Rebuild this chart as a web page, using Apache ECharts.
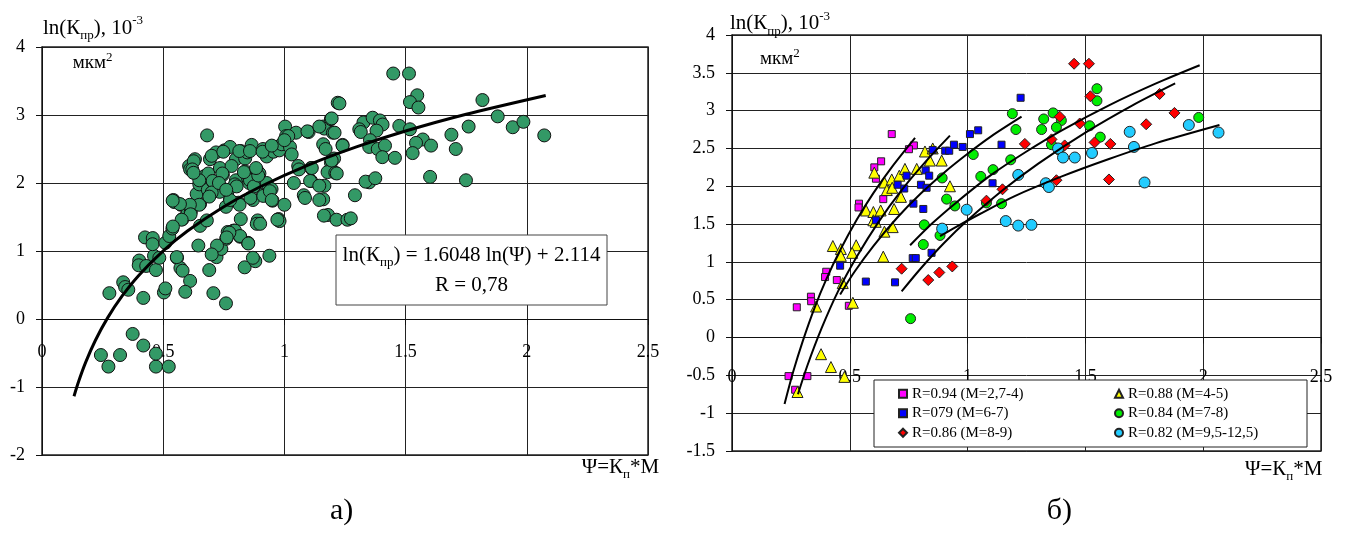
<!DOCTYPE html>
<html><head><meta charset="utf-8">
<script src="https://cdn.jsdelivr.net/npm/echarts@6/dist/echarts.min.js"></script>
<style>html,body{margin:0;padding:0;background:#fff}#c{width:1348px;height:535px}</style>
</head><body><div id="c"></div>
<script>
// ---------- tick values ----------
const xTicks = [0, 0.5, 1, 1.5, 2, 2.5];
const yTicksA = [-2, -1, 0, 1, 2, 3, 4];
const yTicksB = [-1.5, -1, -0.5, 0, 0.5, 1, 1.5, 2, 2.5, 3, 3.5, 4];

// ---------- chart a) : all samples ----------
const allSamples = [
[0.243,-0.53],[0.274,-0.70],[0.322,-0.53],[0.374,-0.22],[0.418,-0.39],[0.47,-0.70],[0.523,-0.70],[0.47,-0.51],
[0.278,0.38],[0.335,0.54],[0.343,0.47],[0.356,0.43],[0.418,0.31],[0.401,0.86],[0.399,0.79],[0.43,0.78],[0.47,0.72],
[0.462,0.93],[0.484,0.90],[0.503,0.39],[0.509,0.45],[0.557,0.90],[0.571,0.75],[0.58,0.71],[0.611,0.56],[0.591,0.40],
[0.645,1.08],[0.69,0.72],[0.707,0.38],[0.72,0.91],[0.727,1.05],[0.74,1.03],[0.759,0.23],[0.76,1.18],[0.77,1.25],
[0.817,1.21],[0.85,1.12],[0.836,0.76],[0.88,0.85],[0.938,0.93],[0.425,1.20],[0.457,1.19],[0.456,1.10],[0.509,1.12],
[0.525,1.22],[0.538,1.33],[0.79,1.30],[0.556,0.91],
[0.542,1.75],[0.546,1.72],[0.573,1.68],[0.58,1.47],[0.60,1.55],[0.614,1.58],[0.652,1.37],[0.652,1.69],[0.638,1.84],
[0.649,1.98],[0.65,2.07],[0.67,2.10],[0.686,2.14],[0.69,1.82],[0.684,1.90],[0.681,2.70],[0.607,2.25],[0.611,2.20],
[0.631,2.35],[0.626,2.32],[0.707,2.01],[0.718,2.45],[0.734,2.22],[0.746,2.12],[0.752,2.48],[0.776,2.53],[0.733,1.87],
[0.767,1.89],[0.775,1.75],[0.759,1.65],[0.766,1.28],[0.722,1.08],[0.82,1.47],[0.81,1.71],[0.815,1.68],[0.80,2.04],
[0.80,2.35],[0.82,2.47],[0.838,2.36],[0.847,2.45],[0.865,2.56],[0.838,2.17],[0.845,2.12],[0.85,2.07],[0.855,2.00],
[0.886,2.19],[0.897,2.14],[0.89,2.05],[0.912,1.83],[0.927,2.00],[0.947,1.91],[0.951,1.74],[0.87,1.75],[0.86,1.78],
[0.89,1.45],[0.886,1.40],[0.976,1.47],[0.98,1.44],[1.0,1.68],[0.912,2.50],[0.927,2.39],[0.947,2.53],[0.955,2.46],
[0.979,2.48],[0.989,2.57],[1.003,2.83],[1.007,2.69],[1.023,2.53],[1.03,2.42],[1.048,2.74],[1.057,2.25],[1.06,2.20],
[1.039,2.00],[1.10,2.75],[1.11,2.22],[1.11,2.03],[1.08,1.82],[1.085,1.78],[1.16,2.83],[1.165,2.80],[1.16,2.57],
[1.17,2.50],[1.165,1.96],[1.16,1.76],[1.18,1.53],[1.192,2.94],[1.20,2.74],[1.192,2.30],[1.178,2.16],[1.21,2.15],
[1.22,3.18],[1.24,2.56],[1.215,1.46],[1.26,1.46],
[0.796,1.30],[0.796,1.98],[0.803,1.95],[0.782,2.25],[0.776,1.75],[0.693,2.35],[0.70,2.40],[0.704,2.03],[0.70,1.86],
[0.69,1.80],[0.649,2.04],[0.649,1.68],[0.61,1.68],[0.613,1.54],[0.576,1.46],[0.569,1.69],[0.539,1.74],[0.54,1.36],
[0.68,1.45],[0.62,2.20],[0.625,2.15],[0.744,2.14],[0.73,2.00],[0.76,1.90],[0.858,2.04],[0.874,1.95],[0.833,2.16],
[0.892,2.11],[0.883,2.22],[0.913,1.81],[0.94,1.88],[0.948,1.75],[0.971,1.46],[0.90,1.40],[0.817,1.22],[0.773,1.27],
[0.762,1.20],[0.851,1.11],[0.70,0.95],[0.87,0.90],[0.748,2.46],[0.814,2.47],[0.858,2.47],[0.91,2.46],[0.948,2.55],
[1.016,2.69],[1.0,2.63],[1.095,2.76],[1.144,2.83],[1.205,2.36],[1.113,2.22],[1.106,2.03],[1.144,1.96],[1.144,1.75],
[1.163,1.52],
[1.449,3.61],[1.514,3.61],[1.548,3.29],[1.518,3.19],[1.553,3.11],[1.227,3.17],[1.195,2.95],[1.207,2.74],[1.24,2.55],
[1.195,2.33],[1.216,2.14],[1.326,2.89],[1.309,2.79],[1.315,2.75],[1.364,2.96],[1.394,2.92],[1.405,2.86],[1.38,2.77],
[1.353,2.63],[1.35,2.53],[1.385,2.50],[1.415,2.55],[1.404,2.38],[1.456,2.37],[1.474,2.84],[1.518,2.79],[1.571,2.64],
[1.543,2.59],[1.605,2.55],[1.529,2.44],[1.601,2.09],[1.689,2.71],[1.707,2.50],[1.76,2.83],[1.749,2.04],[1.817,3.22],
[1.88,2.98],[1.942,2.82],[1.986,2.90],[1.35,2.01],[1.335,2.02],[1.375,2.07],[1.291,1.82],[1.274,1.48],[2.072,2.70]
];
// trend line read off chart a)
const trendA_x = [0.132,0.15,0.18,0.22,0.27,0.33,0.4,0.5,0.6,0.75,0.9,1.1,1.3,1.5,1.75,2.078];
const trendA_y = [-1.136,-0.930,-0.638,-0.316,0.013,0.335,0.644,1.002,1.294,1.652,1.945,2.267,2.535,2.765,3.012,3.288];

// ---------- chart б) : groups ----------
const names = ['R=0.94 (M=2,7-4)','R=0.88 (M=4-5)','R=079 (M=6-7)','R=0.84 (M=7-8)','R=0.86 (M=8-9)','R=0.82 (M=9,5-12,5)'];
const g27_4 = [[0.678,2.69],[0.772,2.54],[0.751,2.49],[0.633,2.33],[0.604,2.25],[0.611,2.10],[0.642,1.83],[0.539,1.77],
[0.537,1.72],[0.40,0.87],[0.395,0.80],[0.445,0.76],[0.335,0.54],[0.336,0.48],[0.275,0.40],[0.496,0.42],[0.24,-0.51],
[0.32,-0.51],[0.268,-0.69]];
const g4_5 = [[0.819,2.46],[0.852,2.50],[0.84,2.34],[0.89,2.34],[0.925,2.00],[0.604,2.18],[0.647,2.05],[0.678,2.09],
[0.71,2.14],[0.734,2.23],[0.784,2.23],[0.657,1.95],[0.68,1.98],[0.717,1.86],[0.688,1.70],[0.569,1.68],[0.60,1.66],
[0.631,1.68],[0.60,1.55],[0.61,1.53],[0.647,1.40],[0.682,1.46],[0.428,1.21],[0.462,1.17],[0.462,1.08],[0.527,1.22],
[0.51,1.12],[0.642,1.07],[0.47,0.72],[0.513,0.46],[0.357,0.41],[0.378,-0.22],[0.42,-0.39],[0.477,-0.52],[0.278,-0.72]];
const g6_7 = [[0.852,2.48],[0.905,2.47],[0.922,2.47],[0.942,2.55],[0.979,2.52],[1.01,2.69],[1.045,2.74],[1.144,2.55],
[1.106,2.04],[1.225,3.17],[0.822,2.21],[0.837,2.14],[0.741,2.14],[0.703,2.02],[0.731,1.97],[0.802,2.02],[0.826,1.98],
[0.77,1.77],[0.812,1.70],[0.611,1.55],[0.847,1.12],[0.767,1.05],[0.78,1.05],[0.459,0.95],[0.568,0.74],[0.692,0.73]];
const g7_8 = [[1.549,3.29],[1.549,3.13],[1.363,2.97],[1.323,2.89],[1.398,2.87],[1.314,2.75],[1.377,2.78],[1.19,2.96],
[1.205,2.75],[1.518,2.80],[1.563,2.65],[1.356,2.55],[1.388,2.48],[1.024,2.42],[1.183,2.35],[1.108,2.22],[1.056,2.13],
[0.892,2.11],[0.911,1.83],[0.946,1.74],[1.08,1.78],[1.144,1.77],[0.883,1.35],[0.816,1.49],[0.812,1.23],[0.758,0.25],
[1.981,2.91]];
const g8_9 = [[1.452,3.62],[1.515,3.62],[1.521,3.19],[1.815,3.22],[1.878,2.97],[1.391,2.92],[1.476,2.83],[1.758,2.82],
[1.243,2.56],[1.356,2.62],[1.412,2.54],[1.539,2.58],[1.606,2.56],[1.60,2.09],[1.377,2.08],[1.148,1.96],[1.08,1.81],
[0.72,0.91],[0.833,0.76],[0.88,0.86],[0.935,0.94]];
const g95_125 = [[0.892,1.44],[0.996,1.69],[1.162,1.54],[1.215,1.48],[1.271,1.49],[1.215,2.15],[1.332,2.04],[1.345,1.99],
[1.384,2.50],[1.405,2.38],[1.455,2.38],[1.528,2.44],[1.688,2.72],[1.706,2.52],[1.751,2.05],[1.939,2.81],[2.065,2.71]];
// trend lines read off chart б)
const tr27_4_x = [0.223,0.26,0.30,0.35,0.40,0.46,0.53,0.60,0.68,0.777];
const tr27_4_y = [-0.88,-0.45,-0.05,0.39,0.77,1.16,1.56,1.91,2.26,2.64];
const tr4_5_x = [0.28,0.32,0.38,0.45,0.53,0.62,0.72,0.82,0.925];
const tr4_5_y = [-0.75,-0.37,0.12,0.61,1.07,1.52,1.95,2.32,2.67];
const tr6_7_x = [0.459,0.52,0.60,0.70,0.80,0.90,1.00,1.10,1.229];
const tr6_7_y = [0.57,0.87,1.21,1.58,1.90,2.18,2.43,2.66,2.92];
const tr7_8_x = [0.756,0.85,0.95,1.1,1.25,1.4,1.6,1.8,1.985];
const tr7_8_y = [1.22,1.51,1.78,2.15,2.46,2.74,3.07,3.36,3.60];
const tr8_9_x = [0.72,0.80,0.90,1.0,1.15,1.3,1.5,1.7,1.881];
const tr8_9_y = [0.61,0.91,1.25,1.55,1.95,2.30,2.71,3.07,3.36];
const tr95_x = [0.883,0.95,1.05,1.2,1.4,1.6,1.8,2.069];
const tr95_y = [1.34,1.46,1.63,1.87,2.13,2.36,2.57,2.81];

// ---------- rendering ----------
const SERIF = 'Liberation Serif';
const zip = (xs, ys) => xs.map((x, i) => [x, ys[i]]);
const first = a => a[0], last = a => a[a.length - 1];

const GA = { left: 42, top: 47, width: 606, height: 408 };
const GB = { left: 732, top: 35, width: 589, height: 416 };
// offset that lifts the x axis from the grid bottom to the y=0 line
const zeroOffset = (g, ticks) => -g.height * (0 - first(ticks)) / (last(ticks) - first(ticks));

function xAxisCfg(gi, margin, off) {
  return {
    type: 'value', gridIndex: gi, min: first(xTicks), max: last(xTicks), interval: xTicks[1] - xTicks[0],
    position: 'bottom', offset: off,
    axisLine: { show: true, onZero: false, lineStyle: { color: '#111', width: 1 } },
    axisTick: { show: true, length: 6, lineStyle: { color: '#111' } },
    axisLabel: { color: '#000', fontFamily: SERIF, fontSize: 18, margin: margin },
    splitLine: { show: true, lineStyle: { color: '#222', width: 1 } }
  };
}
function yAxisCfg(gi, ticks) {
  return {
    type: 'value', gridIndex: gi, min: first(ticks), max: last(ticks), interval: ticks[1] - ticks[0],
    axisLine: { show: true, onZero: false, lineStyle: { color: '#111', width: 1 } },
    axisTick: { show: true, length: 6, lineStyle: { color: '#111' } },
    axisLabel: { color: '#000', fontFamily: SERIF, fontSize: 18, margin: 17 },
    splitLine: { show: true, lineStyle: { color: '#222', width: 1 } }
  };
}
function scat(name, data, symbol, size, color) {
  return { type: 'scatter', name: name, xAxisIndex: 1, yAxisIndex: 1, data: data, symbol: symbol, symbolSize: size,
    itemStyle: { color: color, borderColor: '#222', borderWidth: 1, opacity: 1 }, z: 3 };
}
function trend(xs, ys, axis, w) {
  return { type: 'line', xAxisIndex: axis, yAxisIndex: axis, data: zip(xs, ys), showSymbol: false, symbol: 'none',
    smooth: 0.3, lineStyle: { color: '#000', width: w }, z: 5, silent: true };
}

const rich1 = {
  a: { fontSize: 21, fontFamily: SERIF, lineHeight: 28, fill: '#000' },
  b: { fontSize: 13, fontFamily: SERIF, lineHeight: 18, verticalAlign: 'bottom', fill: '#000' },
  c: { fontSize: 13, fontFamily: SERIF, lineHeight: 13, verticalAlign: 'top', fill: '#000' },
  m: { fontSize: 19, fontFamily: SERIF, lineHeight: 24, fill: '#000' }
};
function txt(x, y, text, align) {
  return { type: 'text', z: 10,
    style: { x: x, y: y, text: text, rich: rich1, align: align || 'left', textAlign: align || 'left',
      verticalAlign: 'top', textVerticalAlign: 'top', fill: '#000', font: '21px ' + SERIF } };
}

const legendText = { fontFamily: SERIF, fontSize: 15, color: '#000', lineHeight: 15.5 };
const option = {
  animation: false,
  backgroundColor: '#fff',
  grid: [
    Object.assign({ show: true, borderColor: '#222', borderWidth: 1.5, backgroundColor: 'transparent' }, GA),
    Object.assign({ show: true, borderColor: '#222', borderWidth: 1.5, backgroundColor: 'transparent' }, GB)
  ],
  xAxis: [xAxisCfg(0, 24, zeroOffset(GA, yTicksA)), xAxisCfg(1, 31, zeroOffset(GB, yTicksB))],
  yAxis: [yAxisCfg(0, yTicksA), yAxisCfg(1, yTicksB)],
  legend: [
    { data: [names[0], names[2], names[4]], orient: 'vertical', left: 898, top: 386, padding: 0, itemGap: 4,
      itemWidth: 8, itemHeight: 8, selectedMode: false, textStyle: legendText, z: 12 },
    { data: [names[1], names[3], names[5]], orient: 'vertical', left: 1114, top: 386, padding: 0, itemGap: 4,
      itemWidth: 8, itemHeight: 8, selectedMode: false, textStyle: legendText, z: 12 }
  ],
  series: [
    { type: 'scatter', name: 'all', xAxisIndex: 0, yAxisIndex: 0, data: allSamples, symbol: 'circle', symbolSize: 13,
      itemStyle: { color: '#339966', borderColor: '#111', borderWidth: 1, opacity: 1 }, z: 3 },
    trend(trendA_x, trendA_y, 0, 3),
    scat(names[0], g27_4, 'rect', 7, '#ff00ff'),
    scat(names[1], g4_5, 'triangle', 11, '#ffff00'),
    scat(names[2], g6_7, 'rect', 7, '#0000ff'),
    scat(names[3], g7_8, 'circle', 10, '#00ee00'),
    scat(names[4], g8_9, 'diamond', 11, '#ff0000'),
    scat(names[5], g95_125, 'circle', 11, '#22ccff'),
    trend(tr27_4_x, tr27_4_y, 1, 2),
    trend(tr4_5_x, tr4_5_y, 1, 2),
    trend(tr6_7_x, tr6_7_y, 1, 2),
    trend(tr7_8_x, tr7_8_y, 1, 2),
    trend(tr8_9_x, tr8_9_y, 1, 2),
    trend(tr95_x, tr95_y, 1, 2)
  ],
  graphic: [
    { type: 'rect', z: 8, shape: { x: 336, y: 235, width: 271, height: 70 }, style: { fill: '#fff', stroke: '#444', lineWidth: 1 } },
    { type: 'rect', z: 8, shape: { x: 874, y: 380, width: 433, height: 67 }, style: { fill: '#fff', stroke: '#222', lineWidth: 1 } },
    txt(43, 14, '{a|ln(К}{b|пр}{a|), 10}{c|-3}'),
    txt(730, 9.6, '{a|ln(К}{b|пр}{a|), 10}{c|-3}'),
    txt(72.7, 51.5, '{m|мкм}{c|2}'),
    txt(760, 47, '{m|мкм}{c|2}'),
    txt(581.7, 453, '{a|Ψ=К}{b|п}{a|*М}'),
    txt(1245, 455, '{a|Ψ=К}{b|п}{a|*М}'),
    txt(471.5, 241, '{a|ln(К}{b|пр}{a|) = 1.6048 ln(Ψ) + 2.114}', 'center'),
    txt(471.5, 271, '{a|R = 0,78}', 'center'),
    { type: 'text', z: 10, style: { x: 330, y: 496, text: 'а)', fill: '#000', font: '30px ' + SERIF, verticalAlign: 'top', textVerticalAlign: 'top' } },
    { type: 'text', z: 10, style: { x: 1046.7, y: 496, text: 'б)', fill: '#000', font: '30px ' + SERIF, verticalAlign: 'top', textVerticalAlign: 'top' } }
  ]
};
const chart = echarts.init(document.getElementById('c'), null, { renderer: 'canvas' });
chart.setOption(option);
</script>
</body></html>
